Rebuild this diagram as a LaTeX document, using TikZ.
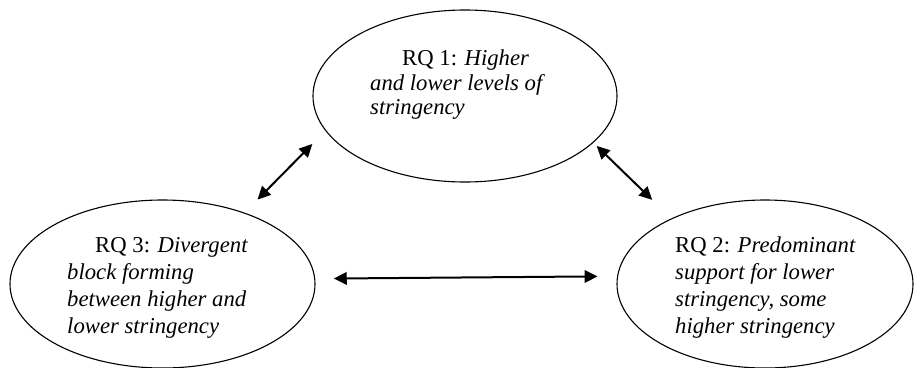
\documentclass[tikz,border=0pt]{standalone}
\usepackage{fontspec}
\setmainfont{Liberation Serif}
\usetikzlibrary{shapes.geometric,arrows.meta}
\tikzset{
  rq/.style={ellipse, draw, line width=1.1pt, inner sep=0pt},
  lbl/.style={anchor=base west, inner sep=0pt, font=\fontsize{22.7}{27}\selectfont},
  link/.style={line width=2pt, {Triangle[length=13pt,width=12.5pt]}-{Triangle[length=13pt,width=12.5pt]}}
}
\begin{document}
\begin{tikzpicture}[x=1pt,y=-1pt]
\useasboundingbox (0,0) rectangle (915,367);
% ellipses
\node[rq, minimum width=304pt, minimum height=172pt] (T) at (465,96) {};
\node[rq, minimum width=305pt, minimum height=168pt] (L) at (162.5,284) {};
\node[rq, minimum width=296pt, minimum height=168pt] (R) at (765,284) {};
% texts
\node[lbl] (t1) at (402,65) {RQ 1: \textit{Higher}};
\node[lbl] (t2) at (370,90) {\textit{and lower levels of}};
\node[lbl] (t3) at (370,114) {\textit{stringency}};
\node[lbl] (l1) at (95,252) {RQ 3: \textit{Divergent}};
\node[lbl] (l2) at (67,279) {\textit{block forming}};
\node[lbl] (l3) at (67,306) {\textit{between higher and}};
\node[lbl] (l4) at (67,333) {\textit{lower stringency}};
\node[lbl] (r1) at (675,252) {RQ 2: \textit{Predominant}};
\node[lbl] (r2) at (675,279) {\textit{support for lower}};
\node[lbl] (r3) at (675,306) {\textit{stringency, some}};
\node[lbl] (r4) at (675,333) {\textit{higher stringency}};
% connectors
\draw[link, shorten <=18.4pt, shorten >=18.5pt] (L.41.05) -- (T.194.1);
\draw[link, shorten <=4.6pt, shorten >=26.6pt] (T.340.97) -- (R.145.03);
\draw[link, shorten <=18.5pt, shorten >=19.5pt] (L.2.64) -- (R.177.28);
\end{tikzpicture}
\end{document}
